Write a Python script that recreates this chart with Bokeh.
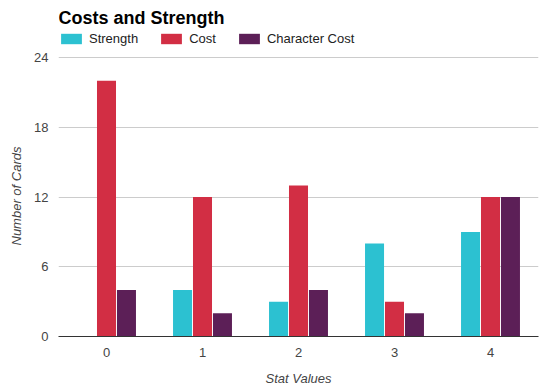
from bokeh.plotting import figure
from bokeh.models import ColumnDataSource, FactorRange, FixedTicker, Legend, LegendItem, Label, Title
from bokeh.transform import dodge
from bokeh.embed import file_html
from bokeh.resources import INLINE

categories = ["0", "1", "2", "3", "4"]
strength = [0, 4, 3, 8, 9]
cost = [22, 12, 13, 3, 12]
char_cost = [4, 2, 4, 2, 12]
y_ticks = [0, 6, 12, 18, 24]

src = ColumnDataSource(dict(x=categories, strength=strength, cost=cost, char_cost=char_cost))

FONT = "Liberation Sans"
FRAME_H = 328
PLOT_H = 279  # pixels between 0 and 24
y_top = 24 * FRAME_H / PLOT_H  # extra white room above 24 for title and legend

p = figure(frame_width=480, frame_height=FRAME_H, x_range=FactorRange(*categories, range_padding=0),
           y_range=(0, y_top), output_backend="svg", toolbar_location=None,
           min_border_left=58, min_border_right=6, min_border_top=8, min_border_bottom=0)
p.outline_line_color = None

colors = ["#2cc1d1", "#d22e44", "#5c1f57"]
names = ["Strength", "Cost", "Character Cost"]
r1 = p.vbar(x=dodge("x", -0.208, range=p.x_range), top="strength", width=0.198, source=src,
            fill_color=colors[0], line_color=None)
r2 = p.vbar(x=dodge("x", 0.0, range=p.x_range), top="cost", width=0.198, source=src,
            fill_color=colors[1], line_color=None)
r3 = p.vbar(x=dodge("x", 0.208, range=p.x_range), top="char_cost", width=0.198, source=src,
            fill_color=colors[2], line_color=None)

p.xgrid.grid_line_color = None
p.ygrid.grid_line_color = "#cccccc"
p.yaxis.ticker = FixedTicker(ticks=y_ticks)
p.yaxis.axis_line_color = None
for ax in (p.xaxis, p.yaxis):
    ax.major_tick_line_color = None
    ax.minor_tick_line_color = None
    ax.major_tick_out = 0
    ax.major_tick_in = 0
    ax.minor_tick_out = 0
    ax.major_label_text_font = FONT
    ax.major_label_text_font_size = "13px"
    ax.major_label_text_color = "#444444"
    ax.axis_label_text_font = FONT
    ax.axis_label_text_font_size = "13px"
    ax.axis_label_text_font_style = "italic"
    ax.axis_label_text_color = "#444444"
p.xaxis.axis_line_color = "#333333"
p.yaxis.major_label_standoff = 10
p.xaxis.major_label_standoff = 11
p.xaxis.axis_label = "Stat Values"
p.xaxis.axis_label_standoff = 11

ylab = Title(text="Number of Cards", align="left", offset=91, standoff=14,
             vertical_align="middle", text_font=FONT, text_font_size="13px",
             text_font_style="italic", text_color="#444444")
p.add_layout(ylab, "left")

title = Label(x=0, y=FRAME_H - 22 + 8 + 5, x_units="screen", y_units="screen", text="Costs and Strength",
              text_font=FONT, text_font_size="18px", text_font_style="bold",
              text_color="#000000", text_baseline="alphabetic")
p.add_layout(title)

legend = Legend(items=[LegendItem(label=n, renderers=[r]) for n, r in zip(names, [r1, r2, r3])],
                orientation="horizontal", location=(0, FRAME_H - 46 + 8),
                glyph_width=26, glyph_height=13, label_height=13, label_standoff=5, spacing=20,
                padding=0, margin=0, border_line_color=None, background_fill_alpha=0,
                label_text_font=FONT, label_text_font_size="13px", label_text_color="#222222")
p.add_layout(legend, "center")

open("out.html", "w").write(file_html(p, INLINE))
